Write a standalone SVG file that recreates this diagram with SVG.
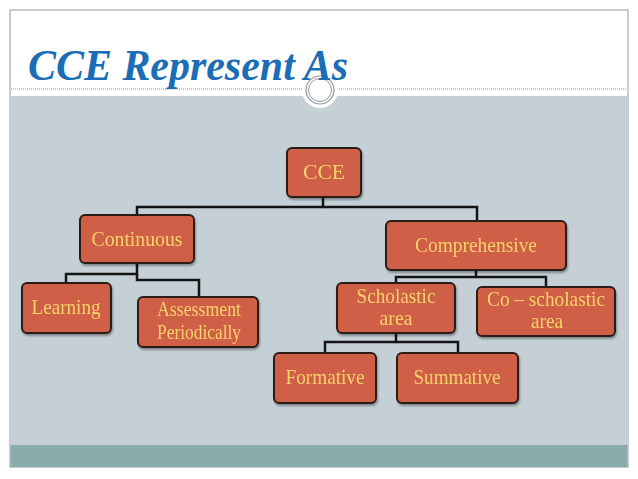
<svg xmlns="http://www.w3.org/2000/svg" width="638" height="479" viewBox="0 0 638 479">
<defs>
<style>
.node rect{fill:#CF5E47;stroke:#2A1C16;stroke-width:2}
.node text{font-family:"Liberation Serif","Times New Roman",serif;font-size:21px;fill:#F7D36A;text-anchor:middle}
#connectors path{fill:none;stroke:#141414;stroke-width:2.5}
</style>
<filter id="sh" x="-10%" y="-10%" width="130%" height="140%">
<feDropShadow dx="1" dy="2" stdDeviation="1.2" flood-color="#000" flood-opacity="0.35"/>
</filter>
</defs>
<rect width="638" height="479" fill="#FFFFFF"/>
<rect x="10" y="10" width="618" height="457" fill="#FFFFFF" stroke="#8E9CA3" stroke-width="1"/>
<rect x="10.5" y="96" width="617" height="349" fill="#C5D0D6"/>
<rect x="10.5" y="445" width="617" height="22" fill="#8AACAC"/>
<line x1="11" y1="89" x2="627" y2="89" stroke="#8F9A9F" stroke-width="1" stroke-dasharray="1,1"/>
<circle cx="320" cy="90" r="18" fill="#FFFFFF"/>
<circle cx="320" cy="90" r="14" fill="none" stroke="#8F979B" stroke-width="1.2"/>
<circle cx="320" cy="90" r="11.5" fill="none" stroke="#8F979B" stroke-width="1"/>
<text x="28" y="80" font-family="Liberation Serif,'Times New Roman',serif" font-size="44" font-weight="bold" font-style="italic" fill="#1B6DB5" textLength="320" lengthAdjust="spacingAndGlyphs">CCE Represent As</text>

<g id="connectors">
<path d="M323,197 V207 H477 V220"/>
<path d="M323,207 H137 V214"/>
<path d="M137,263 V274 H66 V283"/>
<path d="M137,274 V280 H199 V297"/>
<path d="M476,270 V277 H396 V283"/>
<path d="M476,277 H546 V287"/>
<path d="M396,333 V342 H325 V353"/>
<path d="M396,342 H458 V353"/>
</g>

<g id="node-cce" class="node" filter="url(#sh)">
<rect x="287" y="148" width="74" height="49" rx="5"/>
<text x="324" y="179" textLength="42" lengthAdjust="spacingAndGlyphs">CCE</text>
</g>
<g id="node-continuous" class="node" filter="url(#sh)">
<rect x="80" y="215" width="114" height="48" rx="5"/>
<text x="137" y="246" textLength="91" lengthAdjust="spacingAndGlyphs">Continuous</text>
</g>
<g id="node-comprehensive" class="node" filter="url(#sh)">
<rect x="386" y="221" width="180" height="49" rx="5"/>
<text x="476" y="252" textLength="122" lengthAdjust="spacingAndGlyphs">Comprehensive</text>
</g>
<g id="node-learning" class="node" filter="url(#sh)">
<rect x="22" y="283" width="89" height="50" rx="5"/>
<text x="66" y="314" textLength="69" lengthAdjust="spacingAndGlyphs">Learning</text>
</g>
<g id="node-assessment" class="node" filter="url(#sh)">
<rect x="138" y="297" width="120" height="50" rx="5"/>
<text x="199" y="316" font-size="18" textLength="84" lengthAdjust="spacingAndGlyphs">Assessment</text>
<text x="199" y="339" font-size="18" textLength="84" lengthAdjust="spacingAndGlyphs">Periodically</text>
</g>
<g id="node-scholastic" class="node" filter="url(#sh)">
<rect x="337" y="283" width="118" height="50" rx="5"/>
<text x="396" y="303" font-size="18" textLength="79" lengthAdjust="spacingAndGlyphs">Scholastic</text>
<text x="396" y="325" font-size="18" textLength="33" lengthAdjust="spacingAndGlyphs">area</text>
</g>
<g id="node-coscholastic" class="node" filter="url(#sh)">
<rect x="477" y="287" width="138" height="49" rx="5"/>
<text x="546" y="306" font-size="18" textLength="118" lengthAdjust="spacingAndGlyphs">Co – scholastic</text>
<text x="547" y="328" font-size="18" textLength="32" lengthAdjust="spacingAndGlyphs">area</text>
</g>
<g id="node-formative" class="node" filter="url(#sh)">
<rect x="274" y="353" width="102" height="50" rx="5"/>
<text x="325" y="384" textLength="79" lengthAdjust="spacingAndGlyphs">Formative</text>
</g>
<g id="node-summative" class="node" filter="url(#sh)">
<rect x="397" y="353" width="121" height="50" rx="5"/>
<text x="457" y="384" textLength="87" lengthAdjust="spacingAndGlyphs">Summative</text>
</g>
</svg>
